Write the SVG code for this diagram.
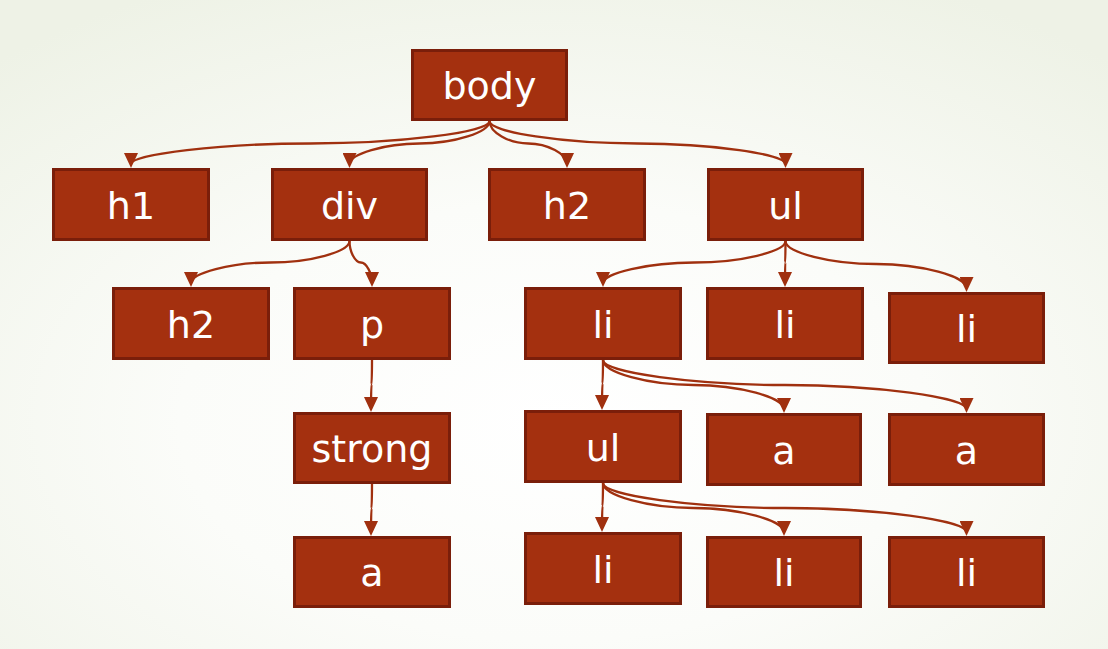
<svg xmlns="http://www.w3.org/2000/svg" width="1108" height="649" viewBox="0 0 1108 649">
<defs>
<radialGradient id="bg" cx="50%" cy="65%" r="75%">
<stop offset="0" stop-color="#ffffff"/>
<stop offset="0.45" stop-color="#fbfcf9"/>
<stop offset="1" stop-color="#eef2e6"/>
</radialGradient>
<marker id="arr" viewBox="0 0 15 14" markerWidth="15" markerHeight="14" refX="11" refY="7" orient="auto" markerUnits="userSpaceOnUse">
<path d="M0,0 L15,7 L0,14 z" fill="#a0300f"/>
</marker>
<style>
.n rect{fill:#a4300f;stroke:#7a1e0a;stroke-width:3}
.n text{fill:#ffffff;font-family:"DejaVu Sans",sans-serif;font-size:38px;text-anchor:middle}
.c path{fill:none;stroke:#a0300f;stroke-width:2.3;marker-end:url(#arr)}
</style>
</defs>
<rect width="1108" height="649" fill="url(#bg)"/>
<g id="connectors" class="c">
<path d="M489.5,121 C489.5,132.25 399.9,143.5 310.3,143.5 C220.6,143.5 131,154.25 131,164"/>
<path d="M489.5,121 C489.5,132.25 454.5,143.5 419.5,143.5 C384.5,143.5 349.5,154.25 349.5,164"/>
<path d="M489.5,121 C489.5,132.25 508.9,143.5 528.3,143.5 C547.6,143.5 567,154.25 567,164"/>
<path d="M489.5,121 C489.5,132.25 563.5,143.5 637.5,143.5 C711.5,143.5 785.5,154.25 785.5,164"/>
<path d="M349.5,241 C349.5,251.75 309.9,262.5 270.3,262.5 C230.6,262.5 191,273.25 191,283"/>
<path d="M349.5,241 C349.5,251.75 355.1,262.5 360.8,262.5 C366.4,262.5 372,273.25 372,283"/>
<path d="M785.5,241 C785.5,251.75 739.9,262.5 694.3,262.5 C648.6,262.5 603,273.25 603,283"/>
<path d="M785.5,241 C785.5,251.75 785.3,262.5 785.2,262.5 C785.1,262.5 785,273.25 785,283"/>
<path d="M785.5,241 C785.5,252.5 830.8,264 876,264 C921.3,264 966.5,276.5 966.5,288"/>
<path d="M372,360 C372,372.25 371.75,384.5 371.5,384.5 C371.25,384.5 371,396.75 371,408"/>
<path d="M372,484 C372,496.25 371.75,508.5 371.5,508.5 C371.25,508.5 371,520.75 371,532"/>
<path d="M603,360 C603,372 602.75,383.5 602.5,383.5 C602.25,383.5 602,395 602,406"/>
<path d="M603,360 C603,372.5 648.3,385 693.5,385 C738.8,385 784,397.5 784,409"/>
<path d="M603,360 C603,372.5 693.9,385 784.8,385 C875.6,385 966.5,397.5 966.5,409"/>
<path d="M603,483 C603,495 602.75,506 602.5,506 C602.25,506 602,517 602,528"/>
<path d="M603,483 C603,495.5 648.3,508 693.5,508 C738.8,508 784,520.5 784,532"/>
<path d="M603,483 C603,495.5 693.9,508 784.8,508 C875.6,508 966.5,520.5 966.5,532"/>
</g>
<g id="node-body" class="n"><rect x="412.5" y="50.5" width="154" height="69"/><text x="489.5" y="99">body</text></g>
<g id="node-h1" class="n"><rect x="53.5" y="169.5" width="155" height="70"/><text x="131" y="219">h1</text></g>
<g id="node-div" class="n"><rect x="272.5" y="169.5" width="154" height="70"/><text x="349.5" y="219">div</text></g>
<g id="node-h2a" class="n"><rect x="489.5" y="169.5" width="155" height="70"/><text x="567" y="219">h2</text></g>
<g id="node-ul1" class="n"><rect x="708.5" y="169.5" width="154" height="70"/><text x="785.5" y="219">ul</text></g>
<g id="node-h2b" class="n"><rect x="113.5" y="288.5" width="155" height="70"/><text x="191" y="338">h2</text></g>
<g id="node-p" class="n"><rect x="294.5" y="288.5" width="155" height="70"/><text x="372" y="338">p</text></g>
<g id="node-li1" class="n"><rect x="525.5" y="288.5" width="155" height="70"/><text x="603" y="338">li</text></g>
<g id="node-li2" class="n"><rect x="707.5" y="288.5" width="155" height="70"/><text x="785" y="338">li</text></g>
<g id="node-li3" class="n"><rect x="889.5" y="293.5" width="154" height="69"/><text x="966.5" y="342">li</text></g>
<g id="node-strong" class="n"><rect x="294.5" y="413.5" width="155" height="69"/><text x="372" y="462">strong</text></g>
<g id="node-ul2" class="n"><rect x="525.5" y="411.5" width="155" height="70"/><text x="603" y="461">ul</text></g>
<g id="node-a1" class="n"><rect x="707.5" y="414.5" width="153" height="70"/><text x="784" y="464">a</text></g>
<g id="node-a2" class="n"><rect x="889.5" y="414.5" width="154" height="70"/><text x="966.5" y="464">a</text></g>
<g id="node-a3" class="n"><rect x="294.5" y="537.5" width="155" height="69"/><text x="372" y="586">a</text></g>
<g id="node-li4" class="n"><rect x="525.5" y="533.5" width="155" height="70"/><text x="603" y="583">li</text></g>
<g id="node-li5" class="n"><rect x="707.5" y="537.5" width="153" height="69"/><text x="784" y="586">li</text></g>
<g id="node-li6" class="n"><rect x="889.5" y="537.5" width="154" height="69"/><text x="966.5" y="586">li</text></g>
</svg>
